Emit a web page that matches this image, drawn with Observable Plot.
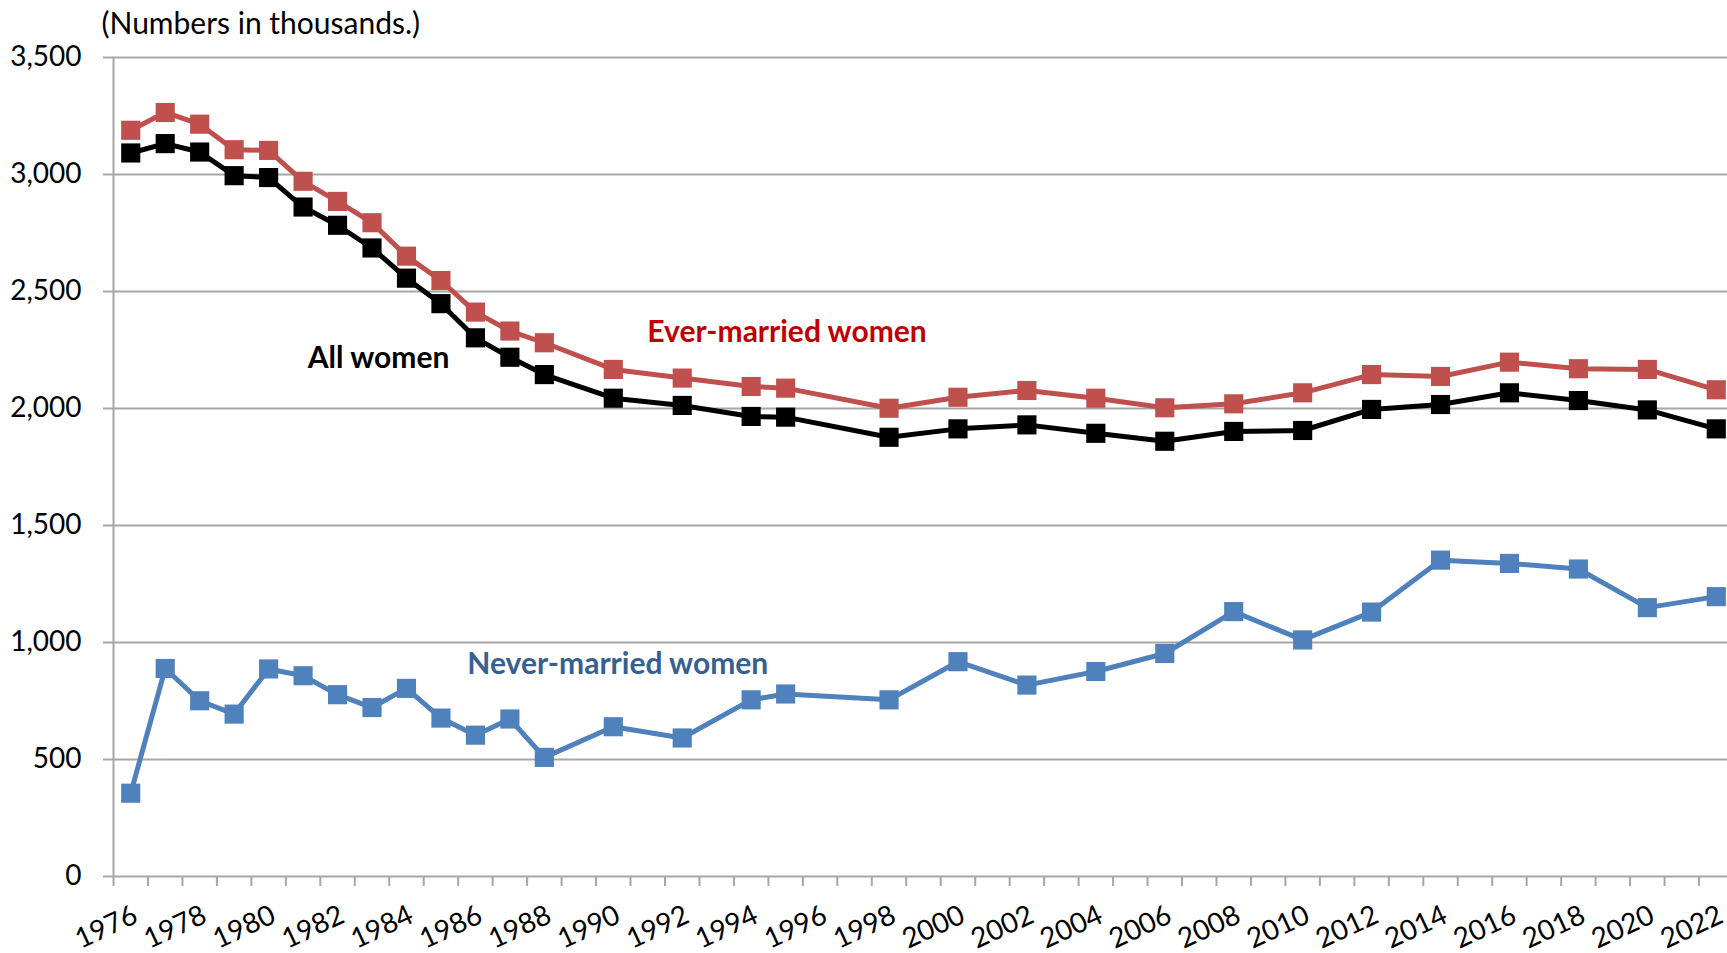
<!DOCTYPE html>
<html>
<head>
<meta charset="utf-8">
<script src="https://cdn.jsdelivr.net/npm/d3@7"></script>
<script src="https://cdn.jsdelivr.net/npm/@observablehq/plot@0.6"></script>
<style>
  html, body { margin: 0; padding: 0; background: #fff; overflow: hidden; }
  #chart svg { display: block; max-width: none !important; }
</style>
</head>
<body>
<div id="chart"></div>
<script>
// ---- Data (numbers in thousands) ----
const years = [1976, 1977, 1978, 1979, 1980, 1981, 1982, 1983, 1984, 1985, 1986, 1987, 1988,
  1990, 1992, 1994, 1995, 1998, 2000, 2002, 2004, 2006, 2008, 2010, 2012, 2014, 2016, 2018, 2020, 2022];
const allWomen = [3092, 3132, 3096, 2995, 2987, 2861, 2783, 2686, 2557, 2448, 2302, 2219, 2145,
  2044, 2013, 1966, 1963, 1877, 1913, 1930, 1894, 1860, 1902, 1906, 1996, 2017, 2067, 2034, 1994, 1913];
const everMarried = [3189, 3265, 3215, 3106, 3103, 2971, 2885, 2794, 2651, 2547, 2412, 2331, 2281,
  2167, 2130, 2094, 2087, 2001, 2048, 2077, 2044, 2003, 2020, 2067, 2145, 2137, 2198, 2170, 2167, 2080];
const neverMarried = [356, 889, 751, 694, 887, 858, 777, 722, 804, 677, 604, 673, 509,
  640, 592, 755, 780, 755, 918, 818, 876, 953, 1132, 1011, 1130, 1352, 1338, 1314, 1149, 1196];
const seriesNames = ["All women", "Ever-married women", "Never-married women"];
const xTickLabels = [1976, 1978, 1980, 1982, 1984, 1986, 1988, 1990, 1992, 1994, 1996, 1998, 2000,
  2002, 2004, 2006, 2008, 2010, 2012, 2014, 2016, 2018, 2020, 2022];
const yTicks = [0, 500, 1000, 1500, 2000, 2500, 3000, 3500];
const unitNote = "(Numbers in thousands.)";

// ---- Styling ----
const font = "Lato, 'Open Sans', sans-serif";
const gridColor = "#a6a6a6";
const colors = {all: "#000000", ever: "#C0504D", never: "#4F81BD"};
const rows = (vals) => years.map((year, i) => ({year, value: vals[i]}));
const yearBounds = d3.range(1975.5, 2023, 1);

function seriesMarks(vals, color) {
  const data = rows(vals);
  return [
    Plot.line(data, {x: "year", y: "value", stroke: color, strokeWidth: 5, strokeLinejoin: "round"}),
    Plot.dot(data, {x: "year", y: "value", symbol: "square", r: 10.8, fill: color})
  ];
}

const chart = Plot.plot({
  width: 1733,
  height: 953,
  marginTop: 57,
  marginBottom: 77,
  marginLeft: 113,
  marginRight: 0,
  style: {fontFamily: font, background: "#fff", overflow: "visible", maxWidth: "none"},
  x: {domain: [1975.5, 2022.5], label: null},
  y: {domain: [0, 3500], label: null},
  marks: [
    Plot.gridY(yTicks, {stroke: gridColor, strokeOpacity: 1, strokeWidth: 2}),
    Plot.ruleX([1975.5], {y1: 0, y2: 3500, stroke: gridColor, strokeWidth: 2}),
    Plot.axisY(yTicks, {
      tickSize: 10, tickPadding: 22, stroke: gridColor, strokeOpacity: 1, strokeWidth: 2,
      tickFormat: d3.format(","), fontSize: 28, fill: "#000"
    }),
    Plot.axisX(yearBounds, {tickSize: 10, stroke: gridColor, strokeOpacity: 1, strokeWidth: 2, fill: "none", tickFormat: () => ""}),
    Plot.text(xTickLabels, {
      x: (d) => d, text: (d) => String(d), frameAnchor: "bottom",
      rotate: -25, textAnchor: "end", lineAnchor: "middle", dy: 37, dx: 5,
      fontSize: 28, fill: "#000"
    }),
    ...seriesMarks(neverMarried, colors.never),
    ...seriesMarks(allWomen, colors.all),
    ...seriesMarks(everMarried, colors.ever),
    Plot.text([seriesNames[0]], {x: 1983.19, y: 2216, fontWeight: "bold", fontSize: 30, fill: "#000"}),
    Plot.text([seriesNames[1]], {x: 1995.04, y: 2326, fontWeight: "bold", fontSize: 30, fill: "#C00000"}),
    Plot.text([seriesNames[2]], {x: 1990.13, y: 907, fontWeight: "bold", fontSize: 30, fill: "#376092"}),
    Plot.text([unitNote], {frameAnchor: "top-left", textAnchor: "start", lineAnchor: "middle", dx: -12, dy: -33, fontSize: 30, fill: "#000"})
  ]
});
document.getElementById("chart").appendChild(chart);
</script>
</body>
</html>
